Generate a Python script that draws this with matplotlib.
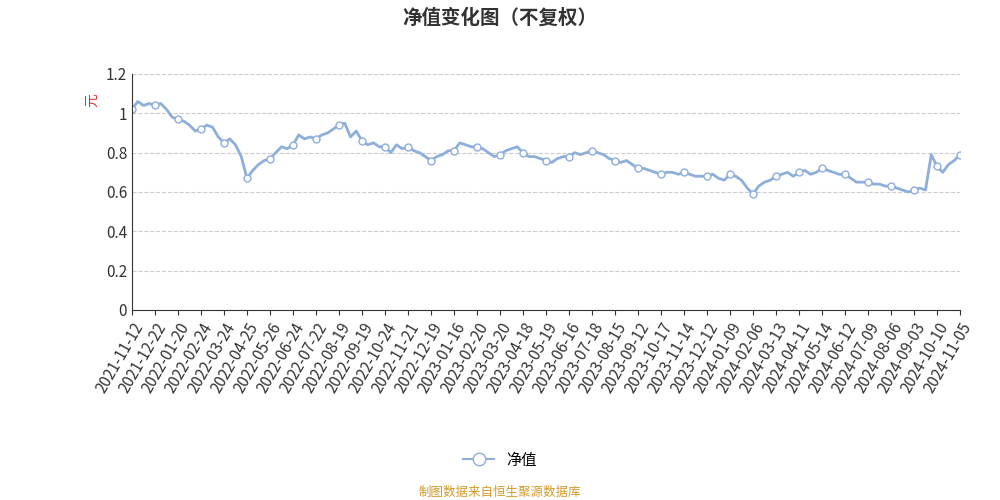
import matplotlib
matplotlib.use("Agg")
import matplotlib.pyplot as plt
from matplotlib.lines import Line2D

plt.rcParams['font.family'] = ['Noto Sans CJK SC', 'DejaVu Sans']

tick_labels = ["2021-11-12","2021-12-22","2022-01-20","2022-02-24","2022-03-24","2022-04-25",
"2022-05-26","2022-06-24","2022-07-22","2022-08-19","2022-09-19","2022-10-24","2022-11-21",
"2022-12-19","2023-01-16","2023-02-20","2023-03-20","2023-04-18","2023-05-19","2023-06-16",
"2023-07-18","2023-08-15","2023-09-12","2023-10-17","2023-11-14","2023-12-12","2024-01-09",
"2024-02-06","2024-03-13","2024-04-11","2024-05-14","2024-06-12","2024-07-09","2024-08-06",
"2024-09-03","2024-10-10","2024-11-05"]

nav = [1.02,1.06,1.04,1.05,
1.04,1.05,1.02,0.98,
0.97,0.96,0.94,0.91,
0.92,0.94,0.93,0.88,
0.85,0.87,0.84,0.78,
0.67,0.71,0.74,0.76,
0.77,0.80,0.83,0.82,
0.84,0.89,0.87,0.88,
0.87,0.89,0.90,0.92,
0.94,0.95,0.88,0.91,
0.86,0.84,0.85,0.83,
0.83,0.80,0.84,0.82,
0.83,0.81,0.80,0.78,
0.76,0.78,0.79,0.81,
0.81,0.85,0.84,0.83,
0.83,0.82,0.80,0.78,
0.79,0.81,0.82,0.83,
0.80,0.78,0.78,0.77,
0.76,0.75,0.77,0.78,
0.78,0.80,0.79,0.80,
0.81,0.80,0.79,0.77,
0.76,0.75,0.76,0.74,
0.72,0.72,0.71,0.70,
0.69,0.70,0.70,0.69,
0.70,0.69,0.68,0.68,
0.68,0.69,0.67,0.66,
0.69,0.68,0.66,0.62,
0.59,0.63,0.65,0.66,
0.68,0.69,0.70,0.68,
0.70,0.71,0.69,0.70,
0.72,0.71,0.70,0.69,
0.69,0.67,0.65,0.65,
0.65,0.64,0.64,0.63,
0.63,0.62,0.61,0.60,
0.61,0.62,0.61,0.79,
0.73,0.70,0.74,0.76,
0.79]

fig = plt.figure(figsize=(10, 5), dpi=100)
ax = fig.add_axes([0.132, 0.38, 0.828, 0.472])
x = list(range(len(nav)))
color = "#8eaedc"
ax.plot(x, nav, color=color, lw=2, marker='o', markevery=4, ms=5,
        markerfacecolor='white', markeredgecolor=color, markeredgewidth=1)
ax.set_xlim(0, len(nav) - 1)
ax.set_ylim(0, 1.2)
ax.set_yticks([0, 0.2, 0.4, 0.6, 0.8, 1.0, 1.2])
ax.set_yticklabels(["0", "0.2", "0.4", "0.6", "0.8", "1", "1.2"])
ax.set_xticks([i * 4 for i in range(len(tick_labels))])
ax.set_xticklabels(tick_labels, rotation=60, ha='right', rotation_mode='anchor')
ax.tick_params(axis='both', labelsize=11, colors='#333333')
ax.tick_params(axis='y', length=0)
ax.grid(axis='y', linestyle='--', color='#cccccc')
for s in ['top', 'right']:
    ax.spines[s].set_visible(False)
ax.spines['left'].set_color('#333333')
ax.spines['bottom'].set_color('#333333')

fig.text(0.5, 0.965, "净值变化图（不复权）", ha='center', va='center', fontsize=14, fontweight='bold', color='#333333')
fig.text(0.092, 0.8, "元", ha='center', va='center', fontsize=10, color='#e03030', rotation=90)
h = Line2D([], [], color=color, lw=1.5, marker='o', ms=9, markerfacecolor='white', markeredgecolor=color)
fig.legend([h], ["净值"], loc='center', bbox_to_anchor=(0.5, 0.08), frameon=False, fontsize=11)
fig.text(0.5, 0.015, "制图数据来自恒生聚源数据库", ha='center', va='center', fontsize=9, color='#d49a2a')
fig.savefig("out.png")
